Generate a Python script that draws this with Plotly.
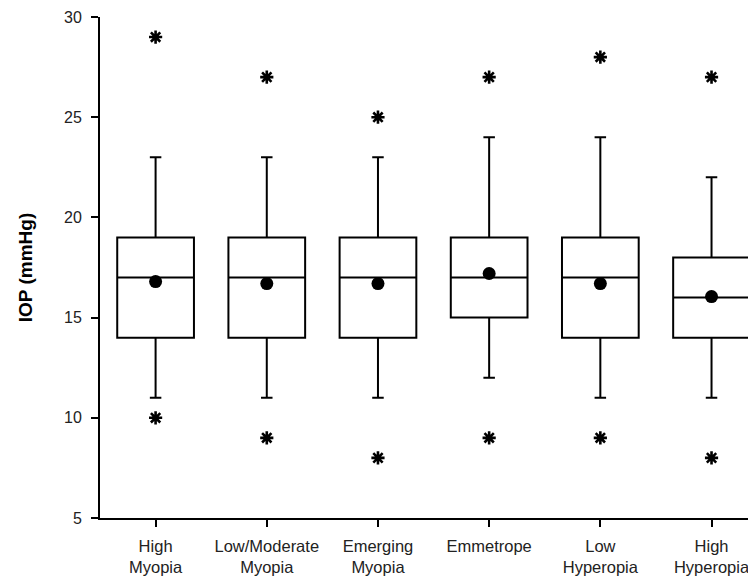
import plotly.graph_objects as go

categories = ["High<br>Myopia", "Low/Moderate<br>Myopia", "Emerging<br>Myopia",
              "Emmetrope", "Low<br>Hyperopia", "High<br>Hyperopia"]
lower_whisker = [11, 11, 11, 12, 11, 11]
q1 = [14, 14, 14, 15, 14, 14]
median = [17, 17, 17, 17, 17, 16]
q3 = [19, 19, 19, 19, 19, 18]
upper_whisker = [23, 23, 23, 24, 24, 22]
mean = [16.8, 16.7, 16.7, 17.2, 16.7, 16.05]
outlier_low = [10, 9, 8, 9, 9, 8]
outlier_high = [29, 27, 25, 27, 28, 27]

fig = go.Figure()
fig.add_trace(go.Box(
    x=categories, q1=q1, median=median, q3=q3,
    lowerfence=lower_whisker, upperfence=upper_whisker,
    fillcolor="white", line=dict(color="black", width=2),
    width=0.69, whiskerwidth=0.15, boxpoints=False, hoverinfo="skip",
))
fig.add_trace(go.Scatter(
    x=categories, y=mean, mode="markers",
    marker=dict(color="black", size=13, symbol="circle"),
))
fig.add_trace(go.Scatter(
    x=categories + categories, y=outlier_low + outlier_high, mode="markers",
    marker=dict(symbol="asterisk-open", size=11, color="black",
                line=dict(color="black", width=2.6)),
))

# page body has an 8px default margin, so the figure is sized to fill the rest
fig.update_layout(
    width=748, height=571,
    margin=dict(l=92, r=0, t=9, b=61),
    paper_bgcolor="white", plot_bgcolor="white",
    showlegend=False,
    font=dict(family="Liberation Sans, Arial, sans-serif", color="#222", size=16),
)
fig.update_xaxes(
    type="category", range=[-0.5, 5.4], automargin=False,
    showline=True, linecolor="black", linewidth=2,
    ticks="outside", ticklen=7, tickwidth=2, tickcolor="black",
    showgrid=False, zeroline=False, tickfont=dict(size=16.5, color="#222"),
    ticklabelstandoff=5,
)
fig.update_yaxes(
    range=[5, 30], tickvals=[5, 10, 15, 20, 25, 30], automargin=False,
    showline=True, linecolor="black", linewidth=2,
    ticks="outside", ticklen=7, tickwidth=2, tickcolor="black",
    showgrid=False, zeroline=False, tickfont=dict(size=16, color="#222"),
    ticklabelstandoff=6,
    title=dict(text="<b>IOP (mmHg)</b>", font=dict(size=19, color="black"), standoff=26),
)

fig.write_html("out.html")
